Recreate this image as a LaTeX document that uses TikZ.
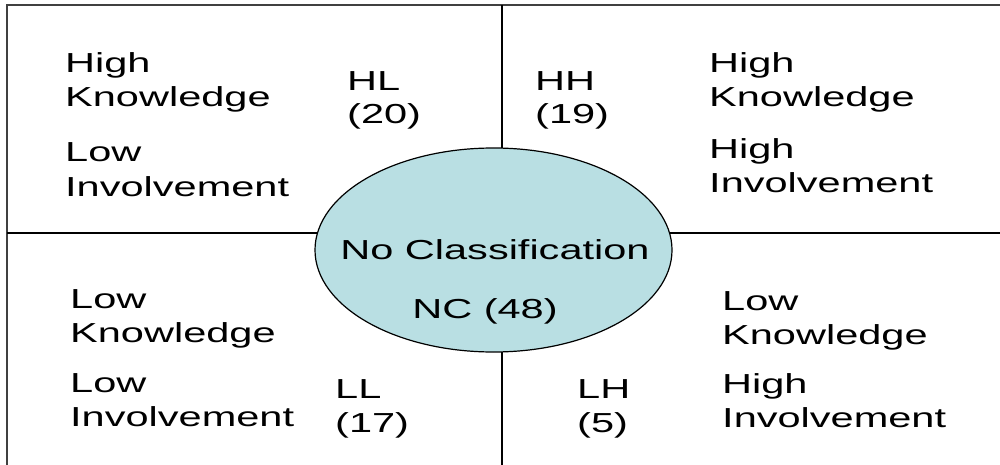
\documentclass[tikz,border=0pt]{standalone}
\usepackage{fontspec}
\usetikzlibrary{shapes.geometric}
\newfontfamily\lblfont{Liberation Sans}[FakeStretch=1.51]
\definecolor{ncfill}{RGB}{185,223,227}
\tikzset{
  lbl/.style={anchor=base west, inner sep=0pt, font=\lblfont\fontsize{27.5}{34}\selectfont},
  ctr/.style={anchor=base, inner sep=0pt, font=\lblfont\fontsize{27.5}{34}\selectfont},
  frame/.style={draw=black!75, line width=2pt},
  divider/.style={draw=black, line width=1.4pt},
  ncshape/.style={ellipse, draw=black, line width=1.2pt, fill=ncfill,
    minimum width=357pt, minimum height=204pt, inner sep=0pt}
}
\begin{document}
\begin{tikzpicture}[x=1pt, y=-1pt]
  \useasboundingbox (0,0) rectangle (1000,465);
  % outer frame: top and left edges
  \coordinate (tl) at (7,5);
  \coordinate (tr) at (1000,5);
  \coordinate (bl) at (7,465);
  \draw[frame] (tr) -- (tl) -- (bl);
  % quadrant dividers
  \coordinate (vtop) at (502,5);
  \coordinate (vbot) at (502,465);
  \coordinate (hleft) at (7,233);
  \coordinate (hright) at (1000,233);
  \draw[divider] (vtop) -- (vbot);
  \draw[divider] (hleft) -- (hright);
  % central class
  \node[ncshape] (nc) at (493.5,250) {};
  \node[ctr] (ncname) at (495,259) {No Classification};
  \node[ctr] (nccount) at (485,318) {NC (48)};
  % top-left quadrant
  \node[lbl] (tl1) at (65,73) {High};
  \node[lbl] (tl2) at (65,107) {Knowledge};
  \node[lbl] (tl3) at (65,162) {Low};
  \node[lbl] (tl4) at (65,196) {Involvement};
  \node[lbl] (hl1) at (347,91) {HL};
  \node[lbl] (hl2) at (347,124) {(20)};
  % top-right quadrant
  \node[lbl] (hh1) at (535,91) {HH};
  \node[lbl] (hh2) at (535,124) {(19)};
  \node[lbl] (tr1) at (709,73) {High};
  \node[lbl] (tr2) at (709,107) {Knowledge};
  \node[lbl] (tr3) at (709,159) {High};
  \node[lbl] (tr4) at (709,193) {Involvement};
  % bottom-left quadrant
  \node[lbl] (bl1) at (70,308) {Low};
  \node[lbl] (bl2) at (70,342) {Knowledge};
  \node[lbl] (bl3) at (70,392) {Low};
  \node[lbl] (bl4) at (70,426) {Involvement};
  \node[lbl] (ll1) at (335,398) {LL};
  \node[lbl] (ll2) at (335,432) {(17)};
  % bottom-right quadrant
  \node[lbl] (lh1) at (577,398) {LH};
  \node[lbl] (lh2) at (577,432) {(5)};
  \node[lbl] (br1) at (722,310) {Low};
  \node[lbl] (br2) at (722,344) {Knowledge};
  \node[lbl] (br3) at (722,393) {High};
  \node[lbl] (br4) at (722,427) {Involvement};
\end{tikzpicture}
\end{document}
